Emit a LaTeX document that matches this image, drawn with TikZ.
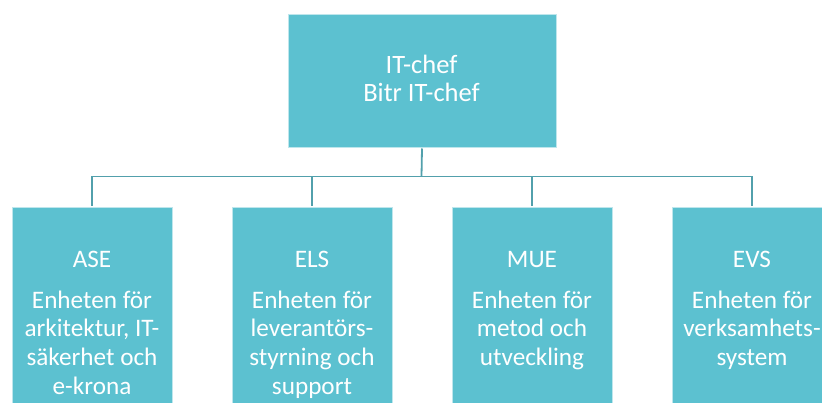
\documentclass[tikz,border=0pt]{standalone}
\usepackage{fontspec}
\setmainfont{Carlito}
\definecolor{boxteal}{RGB}{92,193,208}
\definecolor{lineteal}{RGB}{82,160,172}
\begin{document}
\begin{tikzpicture}[x=1pt,y=-1pt,
  box/.style={fill=boxteal, draw=white!60!boxteal, line width=0.8pt, inner sep=0pt, outer sep=0pt, anchor=north west},
  topbox/.style={box, minimum width=268pt, minimum height=133pt},
  unitbox/.style={box, minimum width=160pt, minimum height=215pt},
  conn/.style={draw=lineteal, line width=1.8pt},
  lbl/.style={text=white, align=center, inner sep=0pt, anchor=north},
  big/.style={lbl, font=\fontsize{26.5}{28}\selectfont},
  small/.style={lbl, font=\fontsize{25.2}{28.7}\selectfont}]
\useasboundingbox (0,0) rectangle (822,403);
\clip (0,0) rectangle (822,403);
\fill[white] (0,0) rectangle (822,403);
\node[topbox] (top) at (288,14) {};
\node[unitbox] (ase) at (12,207) {};
\node[unitbox] (els) at (232,207) {};
\node[unitbox] (mue) at (452,207) {};
\node[unitbox] (evs) at (672,207) {};
\coordinate (j) at (421.5,176.5);
\draw[conn] ([yshift=-1.5pt]top.south) -- (j);
\foreach \n in {ase,els,mue,evs} \draw[conn] (j) -| ([yshift=1pt]\n.north);
\node[big] (toptxt) at (421.5,55) {IT-chef\\Bitr IT-chef};
\node[small] (asen) at (92,250.8) {ASE};
\node[small] (elsn) at (312,250.8) {ELS};
\node[small] (muen) at (532,250.8) {MUE};
\node[small] (evsn) at (752,250.8) {EVS};
\node[small] (ased) at (92,290.4) {Enheten för\\arkitektur, IT-\\säkerhet och\\e-krona};
\node[small] (elsd) at (312,290.4) {Enheten för\\leverantörs-\\styrning och\\support};
\node[small] (mued) at (532,290.4) {Enheten för\\metod och\\utveckling};
\node[small] (evsd) at (752,290.4) {Enheten för\\verksamhets-\\system};
\end{tikzpicture}
\end{document}
